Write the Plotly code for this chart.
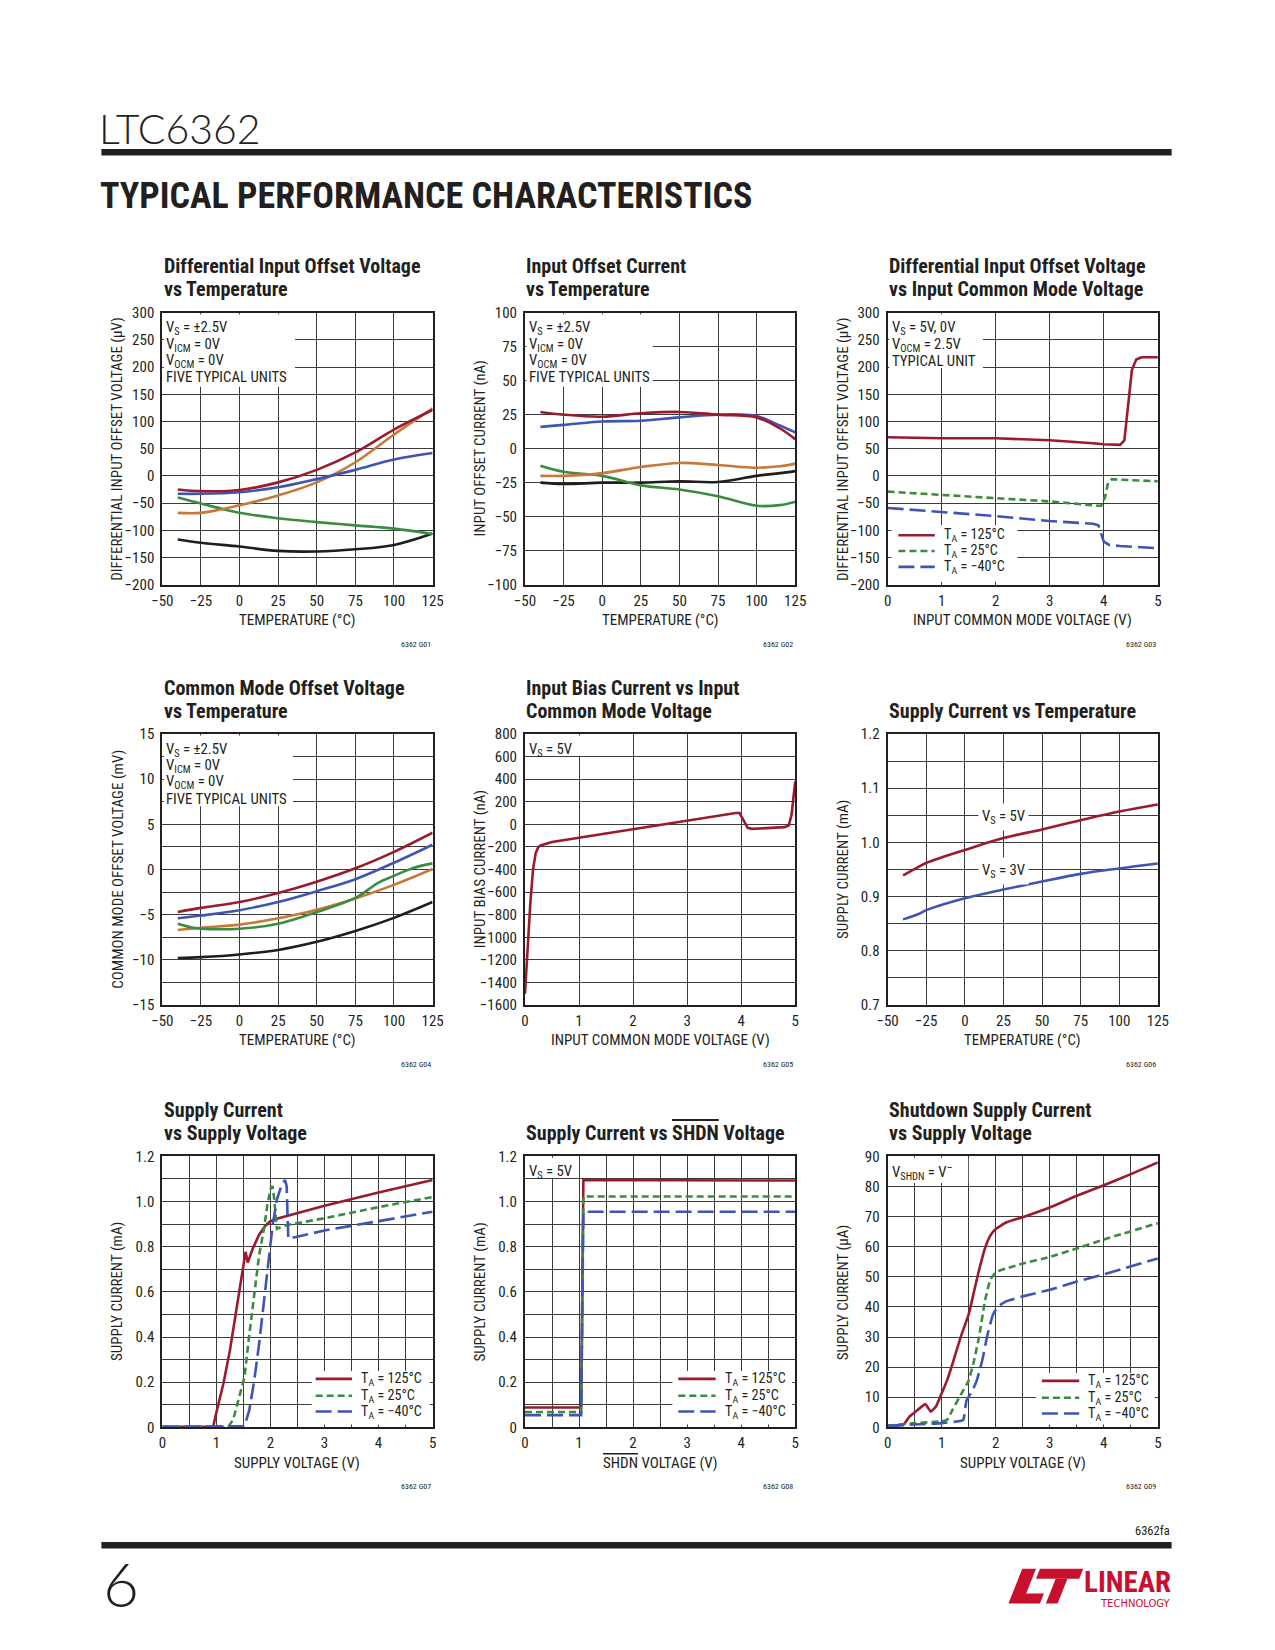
import plotly.graph_objects as go

W, H = 1275, 1650
RED = "#9A1A2E"
BLUE = "#3E55B4"
GREEN = "#3B8B40"
ORANGE = "#C8793A"
BLACK = "#1E1E1E"
INK = "#231F20"
GRID = "#3C3C3C"
LOGO = "#C8102E"
NARROW = "Liberation Sans Narrow, Arial Narrow, Roboto Condensed, DejaVu Sans Condensed, sans-serif"
GEO = "Lato, Noto Sans, sans-serif"

# ---------------- data ----------------
# G01 differential input offset voltage vs temperature (uV)
g01_temp = [-40, -25, 0, 25, 50, 75, 100, 125]
g01_unit_red = [-25, -28, -26, -12, 11, 43, 85, 121]
g01_unit_blue = [-33, -33, -30, -21, -6, 11, 30, 42]
g01_unit_orange = [-68, -68, -54, -36, -12, 25, 76, 124]
g01_unit_green = [-40, -51, -68, -78, -85, -91, -97, -107]
g01_unit_black = [-117, -123, -130, -138, -139, -135, -127, -106]

# G02 input offset current vs temperature (nA)
g02_temp = [-40, -25, 0, 25, 50, 75, 100, 115, 125]
g02_unit_red = [27, 25, 23.5, 26, 27, 25, 23, 15, 7]
g02_unit_blue = [16, 17.5, 20, 20.5, 23, 25, 24, 17, 12]
g02_unit_orange = [-20, -20, -18, -13.5, -10.5, -12, -14, -13, -11]
g02_unit_black = [-25, -26, -25, -25, -24, -24.5, -20, -18, -16.5]
g02_unit_green = [-12.5, -17, -20, -27, -30, -35, -42, -41.5, -39]

# G03 differential input offset voltage vs input common mode voltage (uV)
g03_vcm_125 = [0, 1, 2, 3, 3.8, 4.0, 4.3, 4.38, 4.45, 4.52, 4.6, 4.7, 5.0]
g03_vos_125 = [71, 69, 69, 65.5, 60, 58, 57, 65, 130, 195, 214, 218, 218]
g03_vcm_25 = [0, 1, 2, 3, 3.9, 3.95, 4.02, 4.08, 4.15, 4.3, 5.0]
g03_vos_25 = [-29, -35, -41, -47, -55, -55, -40, -12, -6, -7, -10]
g03_vcm_m40 = [0, 1, 2, 3, 3.8, 3.9, 3.95, 4.0, 4.1, 4.3, 5.0]
g03_vos_m40 = [-59, -66, -74, -83, -88, -91, -106, -121, -127, -129, -133]

# G04 common mode offset voltage vs temperature (mV)
g04_temp = [-40, -25, 0, 25, 50, 75, 100, 125]
g04_unit_red = [-4.7, -4.25, -3.6, -2.6, -1.35, 0.13, 1.95, 4.07]
g04_unit_blue = [-5.4, -5.1, -4.5, -3.6, -2.4, -1.07, 0.75, 2.75]
g04_unit_orange = [-6.7, -6.45, -6.1, -5.4, -4.45, -3.2, -1.7, 0.05]
g04_temp_green = [-40, -30, -25, 0, 25, 50, 75, 90, 100, 112, 125]
g04_unit_green = [-6.0, -6.45, -6.55, -6.55, -6.0, -4.7, -3.15, -1.45, -0.7, 0.15, 0.68]
g04_unit_black = [-9.8, -9.7, -9.4, -8.9, -8.0, -6.8, -5.35, -3.6]

# G05 input bias current vs input common mode voltage (nA)
g05_vcm = [0, 0.05, 0.1, 0.15, 0.2, 0.25, 0.3, 0.5, 1, 2, 3, 3.5, 3.9, 3.97, 4.05,
           4.12, 4.2, 4.5, 4.8, 4.88, 4.93, 4.97, 5.0]
g05_ib = [-1500, -1040, -690, -395, -250, -200, -185, -156, -118, -40, 33, 70, 100, 100, 27,
          -31, -40, -35, -25, -10, 80, 250, 380]

# G06 supply current vs temperature (mA)
g06_temp = [-40, -30, -25, 0, 25, 50, 75, 100, 125]
g06_is_5v = [0.939, 0.955, 0.962, 0.986, 1.008, 1.024, 1.041, 1.057, 1.07]
g06_is_3v = [0.858, 0.868, 0.875, 0.897, 0.913, 0.928, 0.942, 0.952, 0.961]

# G07 supply current vs supply voltage (mA)
g07_vs_125 = [0, 0.5, 0.94, 1.01, 1.13, 1.25, 1.37, 1.46, 1.52, 1.54, 1.58, 1.67, 1.79, 1.91,
              2.0, 2.15, 3.0, 4.0, 5.0]
g07_is_125 = [0.002, 0.004, 0.004, 0.077, 0.194, 0.34, 0.515, 0.646, 0.74, 0.777, 0.73, 0.79,
              0.853, 0.894, 0.913, 0.926, 0.981, 1.04, 1.095]
g07_vs_25 = [0, 1.22, 1.31, 1.43, 1.52, 1.61, 1.70, 1.79, 1.88, 1.95, 2.01, 2.04, 2.07, 2.12,
             2.27, 3.0, 4.0, 5.0]
g07_is_25 = [0.002, 0.003, 0.034, 0.136, 0.223, 0.413, 0.602, 0.762, 0.879, 0.996, 1.061,
             1.068, 1.01, 0.879, 0.894, 0.926, 0.975, 1.02]
g07_vs_m40 = [0, 1.52, 1.61, 1.70, 1.79, 1.88, 1.97, 2.04, 2.12, 2.21, 2.27, 2.30, 2.33,
              3.0, 4.0, 5.0]
g07_is_m40 = [0.002, 0.005, 0.077, 0.208, 0.369, 0.558, 0.733, 0.894, 1.01, 1.076, 1.095,
              1.068, 0.835, 0.872, 0.913, 0.955]

# G08 supply current vs SHDN voltage (mA)
g08_vshdn = [0, 1.04, 1.08, 5.0]
g08_is_125 = [0.088, 0.088, 1.095, 1.093]
g08_is_25 = [0.068, 0.068, 1.022, 1.022]
g08_is_m40 = [0.054, 0.054, 0.955, 0.955]

# G09 shutdown supply current vs supply voltage (uA)
g09_vs_125 = [0, 0.3, 0.4, 0.55, 0.7, 0.8, 0.9, 1.0, 1.1, 1.2, 1.35, 1.5, 1.6, 1.7, 1.8, 1.9,
              2.0, 2.2, 2.5, 3.0, 3.5, 4.0, 4.5, 5.0]
g09_is_125 = [0.5, 1.1, 3.5, 5.7, 7.7, 5.2, 7.1, 11.3, 15.6, 21.1, 29.9, 37.5, 45.2, 52.8,
              59.4, 63.7, 65.9, 68.1, 69.8, 73.0, 76.9, 80.4, 84.1, 88.0]
g09_vs_25 = [0, 0.5, 1.0, 1.1, 1.2, 1.35, 1.5, 1.6, 1.7, 1.8, 1.9, 2.0, 2.2, 2.5, 3.0, 3.5,
             4.0, 5.0]
g09_is_25 = [0.5, 1.4, 2.0, 2.5, 5.8, 10.7, 15.6, 22.2, 30.9, 41.9, 49.0, 51.5, 52.8, 54.4,
             56.6, 59.4, 62.4, 67.8]
g09_vs_m40 = [0, 1.0, 1.3, 1.4, 1.46, 1.56, 1.65, 1.75, 1.85, 1.95, 2.05, 2.2, 2.5, 3.0, 3.5,
              4.0, 5.0]
g09_is_m40 = [0.5, 1.4, 2.0, 2.5, 9.0, 11.8, 15.6, 22.2, 30.9, 37.5, 40.2, 41.9, 43.5, 45.7,
              48.4, 50.8, 56.1]

LEG_LABELS = ["T<sub>A</sub> = 125°C", "T<sub>A</sub> = 25°C", "T<sub>A</sub> = −40°C"]

# ---------------- geometry (page pixels) ----------------
COLS = [(154, 429), (523, 798), (892, 1167)]
ROWS = [(307, 582), (733, 1007), (1160, 1434)]

fig = go.Figure()
shapes = []
anns = []

WIDTH = 2.6
DASH_S = "7px,4px"
DASH_L = "16px,6px"
STYLES = [(RED, "solid"), (GREEN, DASH_S), (BLUE, DASH_L)]


def axn(k):
    return ("x", "y") if k == 1 else (f"x{k}", f"y{k}")


def line(k, x, y, color, dash="solid", shape="linear", smooth=1.0):
    xa, ya = axn(k)
    fig.add_trace(go.Scatter(
        x=x, y=y, xaxis=xa, yaxis=ya, mode="lines", showlegend=False, hoverinfo="skip",
        line=dict(color=color, width=WIDTH, dash=dash, shape=shape,
                  smoothing=smooth if shape == "spline" else None)))


line(1, g01_temp, g01_unit_black, BLACK, shape="spline")
line(1, g01_temp, g01_unit_green, GREEN, shape="spline")
line(1, g01_temp, g01_unit_orange, ORANGE, shape="spline")
line(1, g01_temp, g01_unit_blue, BLUE, shape="spline")
line(1, g01_temp, g01_unit_red, RED, shape="spline")

line(2, g02_temp, g02_unit_black, BLACK, shape="spline")
line(2, g02_temp, g02_unit_green, GREEN, shape="spline")
line(2, g02_temp, g02_unit_orange, ORANGE, shape="spline")
line(2, g02_temp, g02_unit_blue, BLUE, shape="spline")
line(2, g02_temp, g02_unit_red, RED, shape="spline")

line(3, g03_vcm_125, g03_vos_125, RED)
line(3, g03_vcm_25, g03_vos_25, GREEN, dash=DASH_S)
line(3, g03_vcm_m40, g03_vos_m40, BLUE, dash=DASH_L)

line(4, g04_temp, g04_unit_black, BLACK, shape="spline")
line(4, g04_temp, g04_unit_orange, ORANGE, shape="spline")
line(4, g04_temp_green, g04_unit_green, GREEN, shape="spline")
line(4, g04_temp, g04_unit_blue, BLUE, shape="spline")
line(4, g04_temp, g04_unit_red, RED, shape="spline")

line(5, g05_vcm, g05_ib, RED)

line(6, g06_temp, g06_is_5v, RED, shape="spline")
line(6, g06_temp, g06_is_3v, BLUE, shape="spline")

line(7, g07_vs_125, g07_is_125, RED)
line(7, g07_vs_25, g07_is_25, GREEN, dash=DASH_S)
line(7, g07_vs_m40, g07_is_m40, BLUE, dash=DASH_L)

line(8, g08_vshdn, g08_is_125, RED)
line(8, g08_vshdn, g08_is_25, GREEN, dash=DASH_S)
line(8, g08_vshdn, g08_is_m40, BLUE, dash=DASH_L)

line(9, g09_vs_125, g09_is_125, RED, shape="spline", smooth=0.4)
line(9, g09_vs_25, g09_is_25, GREEN, dash=DASH_S, shape="spline", smooth=0.4)
line(9, g09_vs_m40, g09_is_m40, BLUE, dash=DASH_L, shape="spline", smooth=0.4)

# ---------------- axes ----------------
Y7 = ["0", "0.2", "0.4", "0.6", "0.8", "1.0", "1.2"]
AX = {
    1: dict(xr=[-50, 125], xd=25, yr=[-200, 300], yd=50),
    2: dict(xr=[-50, 125], xd=25, yr=[-100, 100], yd=25),
    3: dict(xr=[0, 5], xd=1, yr=[-200, 300], yd=50),
    4: dict(xr=[-50, 125], xd=25, yr=[-15, 15], yd=5, ym=2.5),
    5: dict(xr=[0, 5], xd=1, yr=[-1600, 800], yd=200),
    6: dict(xr=[-50, 125], xd=25, yr=[0.7, 1.2], yd=0.1, ym=0.05, yf=".1f"),
    7: dict(xr=[0, 5], xd=1, xm=0.5, yr=[0, 1.2], yd=0.2, ym=0.1, yt=Y7),
    8: dict(xr=[0, 5], xd=1, xm=0.5, yr=[0, 1.2], yd=0.2, ym=0.1, yt=Y7),
    9: dict(xr=[0, 5], xd=1, xm=0.5, yr=[0, 90], yd=10),
}

layout_axes = {}
tickfont = dict(family=NARROW, size=15, color=INK)
for k in range(1, 10):
    r, c = (k - 1) // 3, (k - 1) % 3
    x0, x1 = COLS[c]
    t, b = ROWS[r]
    a = AX[k]
    xa, ya = axn(k)
    common = dict(showgrid=True, gridcolor=GRID, gridwidth=1, zeroline=False, showline=True,
                  linecolor=INK, linewidth=2, mirror=True, ticks="", tickfont=tickfont,
                  fixedrange=True)
    xdict = dict(domain=[x0 / W, x1 / W], range=a["xr"], dtick=a["xd"], tick0=0,
                 anchor=ya, ticklabelstandoff=1, **common)
    if "xm" in a:
        xdict["minor"] = dict(dtick=a["xm"], showgrid=True, gridcolor=GRID, gridwidth=1)
    ydict = dict(domain=[1 - b / H, 1 - t / H], range=a["yr"], dtick=a["yd"], tick0=0,
                 anchor=xa, ticklabelstandoff=3, **common)
    if "ym" in a:
        ydict["minor"] = dict(dtick=a["ym"], showgrid=True, gridcolor=GRID, gridwidth=1)
    if "yf" in a:
        ydict["tickformat"] = a["yf"]
    if "yt" in a:
        ydict["tickmode"] = "array"
        ydict["tickvals"] = [round(i * a["yd"], 3) for i in range(len(a["yt"]))]
        ydict["ticktext"] = a["yt"]
    layout_axes["xaxis" if k == 1 else f"xaxis{k}"] = xdict
    layout_axes["yaxis" if k == 1 else f"yaxis{k}"] = ydict


def pann(xpx, ypx, text, size, xanchor="left", yanchor="middle", family=NARROW, color=INK,
         angle=0, weight=None):
    f = dict(family=family, size=size, color=color)
    if weight is not None:
        f["weight"] = weight
    anns.append(dict(x=xpx / W, y=1 - ypx / H, xref="paper", yref="paper", text=text,
                     showarrow=False, xanchor=xanchor, yanchor=yanchor, textangle=angle,
                     align="left", font=f))


def prect(x0, y0, x1, y1, color):
    shapes.append(dict(type="rect", xref="paper", yref="paper", x0=x0 / W, x1=x1 / W,
                       y0=1 - y1 / H, y1=1 - y0 / H, fillcolor=color, line=dict(width=0),
                       layer="above"))


def pline(x0, x1, y, color, dash):
    shapes.append(dict(type="line", xref="paper", yref="paper", x0=x0 / W, x1=x1 / W,
                       y0=1 - y / H, y1=1 - y / H, layer="above",
                       line=dict(color=color, width=WIDTH, dash=dash)))


def ppath(pts, color):
    d = "M " + " L ".join(f"{x / W:.5f},{1 - y / H:.5f}" for x, y in pts) + " Z"
    shapes.append(dict(type="path", xref="paper", yref="paper", path=d, fillcolor=color,
                       line=dict(width=0), layer="above"))


def textbox(k, lines_, wpx, hpx):
    r, c = (k - 1) // 3, (k - 1) % 3
    x0 = COLS[c][0]
    t = ROWS[r][0]
    prect(x0 + 1.5, t + 1.5, x0 + wpx, t + hpx, "white")
    for i, tx in enumerate(lines_):
        pann(x0 + 2, t + 16 + 16.5 * i, tx, 14.8)


def legendbox(bx0, by0, bx1, by1, lx0, lx1, tx, rows):
    prect(bx0, by0, bx1, by1, "white")
    for (col, dash), lab, yy in zip(STYLES, LEG_LABELS, rows):
        pline(lx0, lx1, yy, col, dash)
        pann(tx, yy, lab, 14.2)


UNITS4 = ["V<sub>S</sub> = ±2.5V", "V<sub>ICM</sub> = 0V", "V<sub>OCM</sub> = 0V",
          "FIVE TYPICAL UNITS"]
textbox(1, UNITS4, 135, 75)
textbox(2, UNITS4, 130, 75)
textbox(3, ["V<sub>S</sub> = 5V, 0V", "V<sub>OCM</sub> = 2.5V", "TYPICAL UNIT"], 97, 56)
textbox(4, UNITS4, 133, 73)
textbox(5, ["V<sub>S</sub> = 5V"], 56, 22)
textbox(8, ["V<sub>S</sub> = 5V"], 55, 22)
textbox(9, ["V<sub>SHDN</sub> = V<sup>–</sup>"], 82, 27)

legendbox(896, 522, 1024, 579, 903, 940, 947, [532, 548, 564])
legendbox(306, 1377, 426, 1431, 310, 347, 354, [1385, 1402, 1418])
legendbox(673, 1377, 795, 1431, 679, 717, 724, [1385, 1402, 1418])
legendbox(1043, 1379, 1164, 1431, 1049, 1087, 1094, [1387, 1404, 1420])

for txt, yv in (("V<sub>S</sub> = 5V", 1.047), ("V<sub>S</sub> = 3V", 0.948)):
    anns.append(dict(xref="x6", yref="y6", x=25, y=yv, text=txt, showarrow=False,
                     bgcolor="white", borderpad=3, font=dict(family=NARROW, size=14.8, color=INK)))

# titles and axis labels
OVL = "<span style='text-decoration:overline'>SHDN</span>"
TITLES = [
    ["Differential Input Offset Voltage", "vs Temperature"],
    ["Input Offset Current", "vs Temperature"],
    ["Differential Input Offset Voltage", "vs Input Common Mode Voltage"],
    ["Common Mode Offset Voltage", "vs Temperature"],
    ["Input Bias Current vs Input", "Common Mode Voltage"],
    ["Supply Current vs Temperature"],
    ["Supply Current", "vs Supply Voltage"],
    ["Supply Current vs " + OVL + " Voltage"],
    ["Shutdown Supply Current", "vs Supply Voltage"],
]
XT = ["TEMPERATURE (°C)", "TEMPERATURE (°C)", "INPUT COMMON MODE VOLTAGE (V)",
      "TEMPERATURE (°C)", "INPUT COMMON MODE VOLTAGE (V)", "TEMPERATURE (°C)",
      "SUPPLY VOLTAGE (V)", OVL + " VOLTAGE (V)", "SUPPLY VOLTAGE (V)"]
YT = ["DIFFERENTIAL INPUT OFFSET VOLTAGE (μV)", "INPUT OFFSET CURRENT (nA)",
      "DIFFERENTIAL INPUT OFFSET VOLTAGE (μV)", "COMMON MODE OFFSET VOLTAGE (mV)",
      "INPUT BIAS CURRENT (nA)", "SUPPLY CURRENT (mA)", "SUPPLY CURRENT (mA)",
      "SUPPLY CURRENT (mA)", "SUPPLY CURRENT (μA)"]
TITLE_Y = [(260, 283.5), (686, 709.5), (1113, 1136)]
XT_Y = [618, 1042, 1470]
FIGNO_Y = [643, 1067, 1494]
YT_X = [108, 477, 846]
for k in range(1, 10):
    r, c = (k - 1) // 3, (k - 1) % 3
    x0, x1 = COLS[c]
    t, b = ROWS[r]
    tl = TITLES[k - 1]
    ys = TITLE_Y[r] if len(tl) == 2 else TITLE_Y[r][1:]
    for tx, yy in zip(tl, ys):
        pann(x0 - 0.5, yy, "<b>" + tx + "</b>", 20)
    pann((x0 + x1) / 2, XT_Y[r], XT[k - 1], 15, xanchor="center")
    pann(YT_X[c], (t + b) / 2, YT[k - 1], 15, xanchor="center", angle=-90)
    pann(x1, FIGNO_Y[r], f"6362 G0{k}", 8, xanchor="right")

# page header / footer
pann(88, 121, "LTC6362", 41, family=GEO, weight=300)
pann(89, 189, "<b>TYPICAL PERFORMANCE CHARACTERISTICS</b>", 36)
pann(1181, 1538, "6362fa", 12.5, xanchor="right")
pann(92, 1591, "6", 62, family=GEO, weight=300)
pann(1182, 1590, "<b>LINEAR</b>", 29, xanchor="right", color=LOGO)
pann(1182, 1612, "TECHNOLOGY", 10, xanchor="right", color=LOGO, family="DejaVu Sans")

prect(92, 141.5, 1181, 148, INK)
prect(92, 1550, 1181, 1556.5, INK)
# LT mark
ppath([(1029, 1577), (1043, 1577), (1033, 1602), (1051, 1602), (1047, 1612), (1015, 1612)], LOGO)
ppath([(1047, 1577), (1091, 1577), (1087, 1587), (1043, 1587)], LOGO)
ppath([(1063, 1587), (1075, 1587), (1065, 1612), (1053, 1612)], LOGO)

fig.update_layout(
    width=W, height=H, margin=dict(l=0, r=0, t=0, b=0, pad=0),
    paper_bgcolor="white", plot_bgcolor="white", showlegend=False,
    annotations=anns, shapes=shapes, **layout_axes)

fig.write_html("out.html", config={"displayModeBar": False},
               post_script="document.body.style.margin='0px';")
